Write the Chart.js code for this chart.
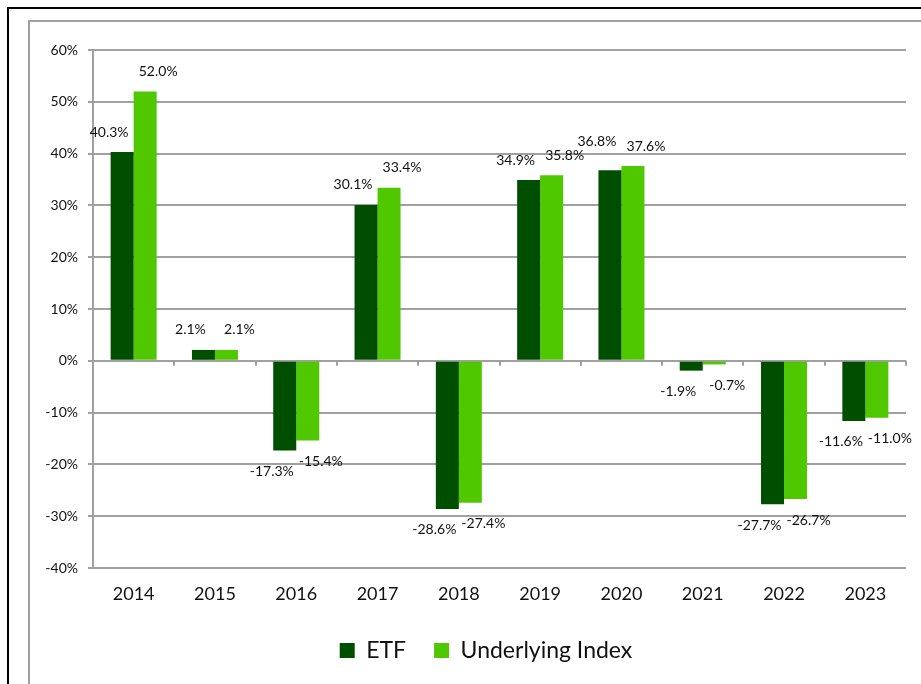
<!DOCTYPE html>
<html>
<head>
<meta charset="utf-8">
<script src="https://cdn.jsdelivr.net/npm/chart.js@4"></script>
<style>
    html, body { margin: 0; padding: 0; background: #fff; overflow: hidden; }
    #outerFrame { position: absolute; left: 7px; top: 7px; width: 1000px; height: 800px; border: 2px solid #000; }
    #innerFrame { position: absolute; left: 28px; top: 20px; width: 1000px; height: 800px; border: 2px solid #a0a0a0; }
    #chart { position: absolute; left: 0; top: 0; }
</style>
</head>
<body>
<div id="outerFrame"></div>
<div id="innerFrame"></div>
<canvas id="chart" width="921" height="684"></canvas>
<script>
const years = ["2014", "2015", "2016", "2017", "2018", "2019", "2020", "2021", "2022", "2023"];
const etfReturns = [40.3, 2.1, -17.3, 30.1, -28.6, 34.9, 36.8, -1.9, -27.7, -11.6];
const indexReturns = [52.0, 2.1, -15.4, 33.4, -27.4, 35.8, 37.6, -0.7, -26.7, -11.0];
const yTicks = [-40, -30, -20, -10, 0, 10, 20, 30, 40, 50, 60];

const darkGreen = "#004f00";
const lightGreen = "#4fc800";
const gridGray = "#a0a0a0";
const fontName = "Lato, 'Liberation Sans', sans-serif";

// 数据标签 + 零线上的刻度
const labelPlugin = {
    id: "barLabels",
    afterLayout(chart) {
        // 图例整体往右挪一点
        chart.legend.left += 33;
        chart.legend.right += 33;
    },
    afterDatasetsDraw(chart) {
        const ctx = chart.ctx;
        const xScale = chart.scales.x;
        const yScale = chart.scales.y;
        const zeroY = yScale.getPixelForValue(0);
        const step = xScale.getPixelForValue(1) - xScale.getPixelForValue(0);

        ctx.save();
        ctx.strokeStyle = gridGray;
        ctx.lineWidth = 2;
        for (let i = 0; i <= years.length; i++) {
            const x = Math.round(xScale.getPixelForValue(i) - step / 2);
            ctx.beginPath();
            ctx.moveTo(x, zeroY);
            ctx.lineTo(x, zeroY + 5);
            ctx.stroke();
        }

        ctx.font = "14px " + fontName;
        ctx.fillStyle = "#111";
        ctx.textAlign = "center";
        ctx.textBaseline = "middle";
        const shifts = [-13, 13];
        const labels = [];
        chart.data.datasets.forEach((ds, di) => {
            chart.getDatasetMeta(di).data.forEach((bar, i) => {
                const v = ds.data[i];
                const text = v.toFixed(1) + "%";
                labels.push({
                    text,
                    x: bar.x + shifts[di],
                    y: v >= 0 ? bar.y - 20 : bar.y + 21,
                    dir: v >= 0 ? -1 : 1,
                    w: ctx.measureText(text).width,
                    h: 14
                });
            });
        });
        // 标签重叠时往外推
        labels.sort((a, b) => a.x - b.x);
        const placed = [];
        labels.forEach(l => {
            let moved = true;
            while (moved) {
                moved = false;
                for (const p of placed) {
                    if (Math.abs(l.x - p.x) < (l.w + p.w) / 2 && Math.abs(l.y - p.y) < (l.h + p.h) / 2) {
                        l.y = p.y + l.dir * (l.h + p.h) / 2;
                        moved = true;
                    }
                }
            }
            placed.push(l);
            ctx.fillText(l.text, l.x, l.y);
        });
        ctx.restore();
    }
};

const ctx = document.getElementById("chart").getContext("2d");
new Chart(ctx, {
    type: "bar",
    data: {
        labels: years,
        datasets: [{
            label: "ETF",
            data: etfReturns,
            backgroundColor: darkGreen,
            categoryPercentage: 0.566,
            barPercentage: 1.0
        }, {
            label: "Underlying Index",
            data: indexReturns,
            backgroundColor: lightGreen,
            categoryPercentage: 0.566,
            barPercentage: 1.0
        }]
    },
    options: {
        responsive: false,
        animation: false,
        layout: {
            padding: { top: 50, right: 15, bottom: 12, left: 0 }
        },
        scales: {
            x: {
                grid: { display: false, drawTicks: false },
                border: { display: false },
                ticks: {
                    color: "#111",
                    padding: 15,
                    font: { family: fontName, size: 18 }
                },
                afterFit(scale) { scale.height = 43; }
            },
            y: {
                min: -40,
                max: 60,
                afterBuildTicks(scale) {
                    scale.ticks = yTicks.map(v => ({ value: v }));
                },
                grid: { color: gridGray, lineWidth: 2, tickLength: 5 },
                border: { color: gridGray, width: 2 },
                ticks: {
                    color: "#111",
                    padding: 10,
                    font: { family: fontName, size: 14 },
                    callback: v => v + "%"
                },
                afterFit(scale) { scale.width = 93; }
            }
        },
        plugins: {
            legend: {
                position: "bottom",
                labels: {
                    boxWidth: 15,
                    boxHeight: 15,
                    padding: 28,
                    color: "#111",
                    font: { family: fontName, size: 23 }
                }
            },
            tooltip: { enabled: false }
        }
    },
    plugins: [labelPlugin]
});
</script>
</body>
</html>
